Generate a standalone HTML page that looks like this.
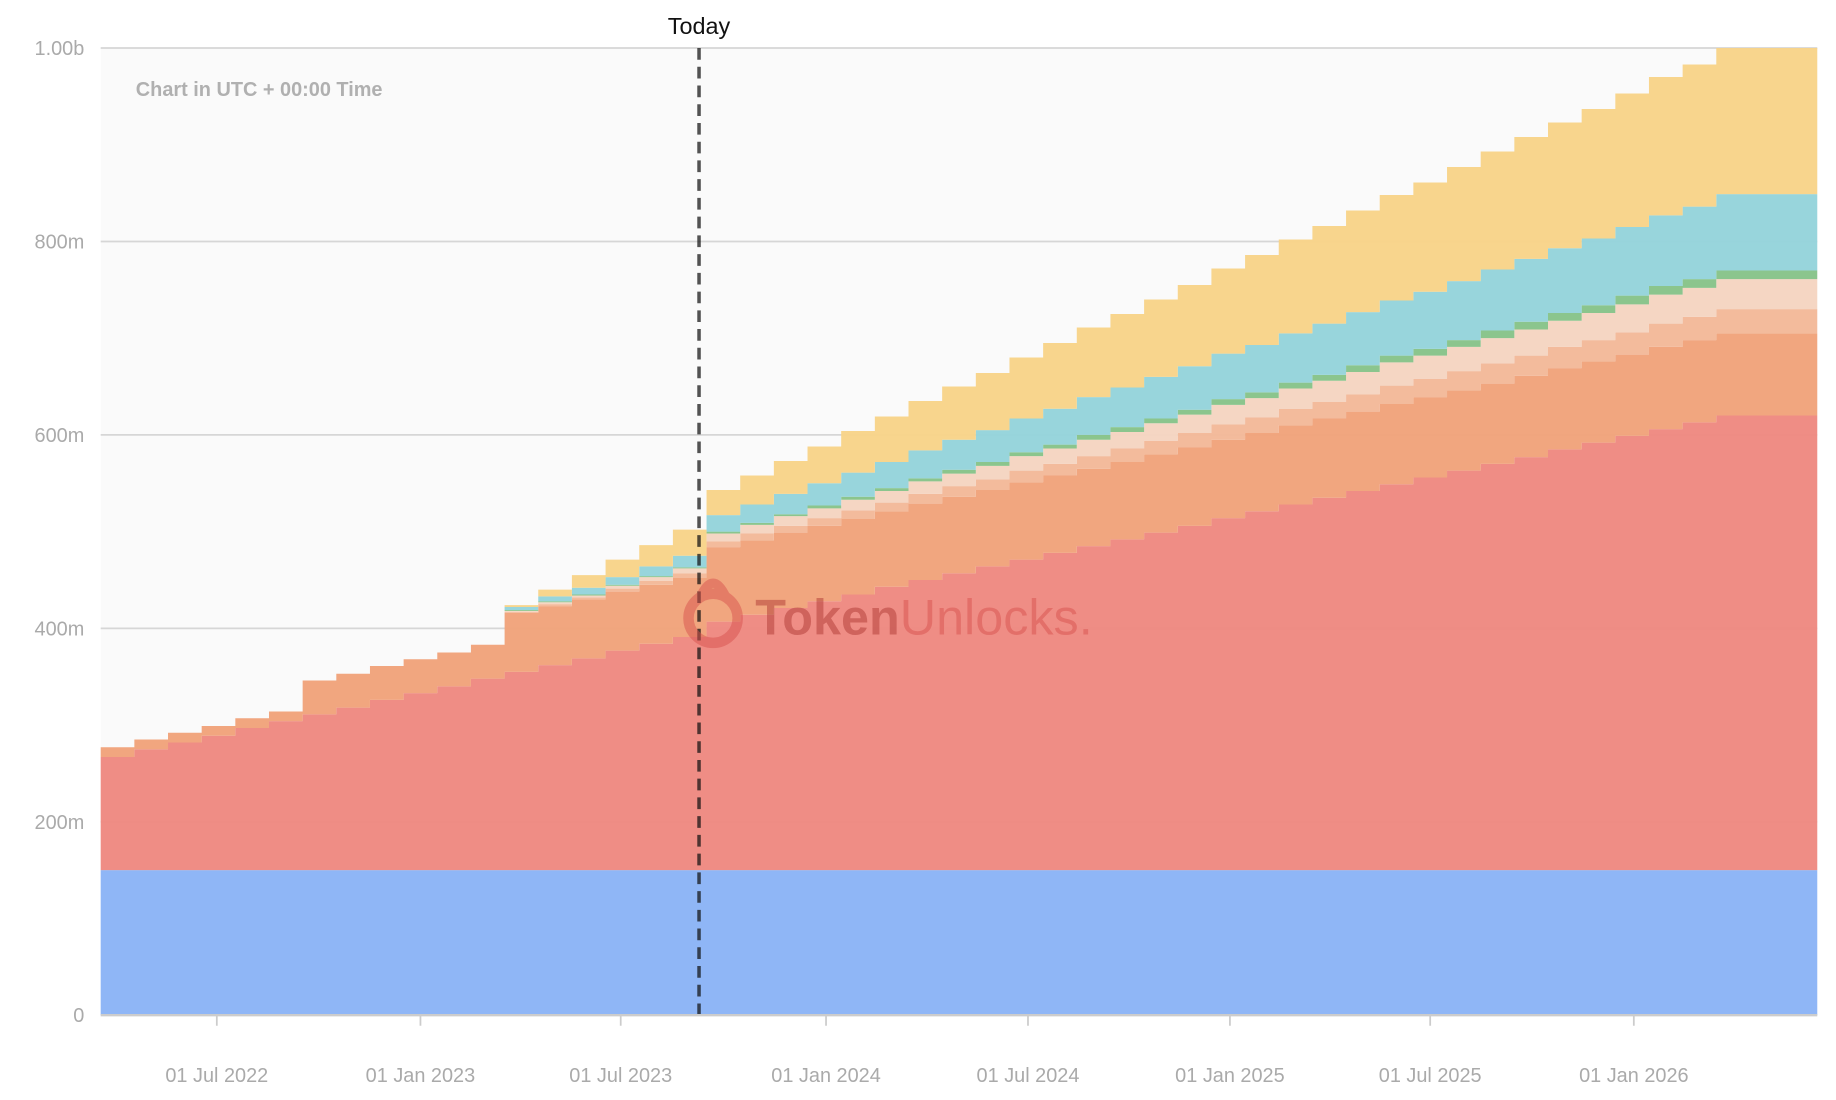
<!DOCTYPE html>
<html><head><meta charset="utf-8">
<style>
html,body{margin:0;padding:0;background:#fff;}
svg{display:block;font-family:"Liberation Sans",sans-serif;}
</style></head>
<body>
<svg id="chart" width="1836" height="1100" viewBox="0 0 1568 939.4" xmlns="http://www.w3.org/2000/svg">
<rect x="86" y="41" width="1466" height="826" fill="#fafafa"/>
<g id="grid"></g>
<g id="areas"></g>
<line x1="597" y1="41" x2="597" y2="867" stroke="#111" stroke-opacity="0.72" stroke-width="3" stroke-dasharray="10,6"/>
<text x="116" y="82" font-size="17" font-weight="bold" fill="#b0b0b0">Chart in UTC + 00:00 Time</text>
<text x="597" y="29" font-size="20" fill="#111" text-anchor="middle">Today</text>
<g opacity="0.5">
<circle cx="609" cy="528" r="21" fill="none" stroke="#d9534f" stroke-width="9"/>
<path d="M598 510 Q609 486 620 510" fill="none" stroke="#d9534f" stroke-width="8"/>
<text x="645" y="542" font-size="43" font-weight="bold" fill="#b03a35">Token<tspan font-weight="normal" fill="#d9534f">Unlocks.</tspan></text>
</g>
<line x1="86" y1="867" x2="1552" y2="867" stroke="#ccc" stroke-width="2"/>
<g id="yaxis"></g>
<g id="xaxis"></g>
</svg>
<script>
const months = 51;
const blueVals = Array(51).fill(150);
const redTops = [267,275,282,289,297,304,311,318,326,333,340,348,355,362,369,377,384,391,
407,414,421,428,435,443,450,457,464,471,478,485,492,499,506,514,521,528,535,542,549,556,563,570,577,585,592,599,606,613,620,620,620];
const orangeVals = [10,10,10,10,10,10,35,35,35,35,35,35,61,61,61,61,61,61,
77,77,78,78,78,78,79,79,79,80,80,80,80,81,81,81,81,82,82,82,83,83,83,83,84,84,84,84,85,85,85,85,85];
const peach1Vals = [0,0,0,0,0,0,0,0,0,0,0,0,1,2,2,3,4,5,
6,7,7,8,9,9,10,11,11,12,12,13,14,14,15,16,16,17,17,18,19,19,20,21,21,22,22,23,24,24,25,25,25];
const peach2Vals = [0,0,0,0,0,0,0,0,0,0,0,0,1,2,2,3,4,5,
8,9,10,10,11,12,13,13,14,15,16,17,17,18,19,20,20,21,22,23,24,24,25,26,27,27,28,29,30,30,31,31,31];
const greenVals = [0,0,0,0,0,0,0,0,0,0,0,0,1,1,1,1,1,1,
2,2,2,3,3,3,3,4,4,4,4,5,5,5,5,6,6,6,6,7,7,7,7,8,8,8,8,9,9,9,9,9,9];
const tealVals = [0,0,0,0,0,0,0,0,0,0,0,0,3,5,7,8,10,12,
17,19,21,23,25,27,29,31,33,35,37,39,41,43,45,47,49,51,53,55,57,59,61,63,65,67,69,71,73,75,79,79,79];
const yellowVals = [0,0,0,0,0,0,0,0,0,0,0,0,2,7,13,18,22,27,
26,30,34,38,43,47,51,55,59,63,68,72,76,80,84,88,93,97,101,105,109,113,118,122,126,130,134,138,143,147,151,151,151];
const yTicks = [0,200,400,600,800,1000];
const yTickLabels = ["0","200m","400m","600m","800m","1.00b"];
const xTickMonths = [3.45,9.5,15.45,21.55,27.55,33.55,39.5,45.55];
const xTickLabels = ["01 Jul 2022","01 Jan 2023","01 Jul 2023","01 Jan 2024","01 Jul 2024","01 Jan 2025","01 Jul 2025","01 Jan 2026"];

const X0=86,X1=1552,Y0=867,Y1=41;
const xs = m => X0 + m*(X1-X0)/months;
const ys = v => Y0 - v*(Y0-Y1)/1000;
const NS="http://www.w3.org/2000/svg";

const redVals = redTops.map(v=>v-150);
const layers = [
 ["blue-area",blueVals,"#8ab3f6"],["red-area",redVals,"#ee8880"],["orange-area",orangeVals,"#f0a27a"],
 ["peach-area",peach1Vals,"#f2b898"],["light-peach-area",peach2Vals,"#f5d4c1"],["green-area",greenVals,"#86c388"],
 ["teal-area",tealVals,"#94d3db"],["yellow-area",yellowVals,"#f8d388"]];
const base = Array(months).fill(0);
const areas=document.getElementById('areas');
layers.forEach(([name,vals,color])=>{
  const top = base.map((b,i)=>b+vals[i]);
  let d="M"+xs(0)+","+ys(top[0]);
  for(let i=0;i<months;i++){ d+=" L"+xs(i)+","+ys(top[i])+" L"+xs(i+1)+","+ys(top[i]); }
  for(let i=months-1;i>=0;i--){ d+=" L"+xs(i+1)+","+ys(base[i])+" L"+xs(i)+","+ys(base[i]); }
  d+="Z";
  const p=document.createElementNS(NS,'path');
  
  
  p.setAttribute('d',d);p.setAttribute('fill',color);p.setAttribute('fill-opacity','0.96');
  areas.appendChild(p);
  for(let i=0;i<months;i++) base[i]=top[i];
});
const grid=document.getElementById('grid'), yax=document.getElementById('yaxis');
yTicks.forEach((v,i)=>{
  if(v>0){const l=document.createElementNS(NS,'line');
  
  
  l.setAttribute('x1',X0);l.setAttribute('x2',X1);l.setAttribute('y1',ys(v));l.setAttribute('y2',ys(v));
  l.setAttribute('stroke','#d6d6d6');l.setAttribute('stroke-width','1.5');grid.appendChild(l);}
  const t=document.createElementNS(NS,'text');
  
  
  t.setAttribute('x',72);t.setAttribute('y',ys(v)+6);t.setAttribute('text-anchor','end');
  t.setAttribute('font-size','17');t.setAttribute('fill','#aaa');t.textContent=yTickLabels[i];yax.appendChild(t);
});
const xax=document.getElementById('xaxis');
xTickMonths.forEach((m,i)=>{
  const l=document.createElementNS(NS,'line');
  
  
  l.setAttribute('x1',xs(m));l.setAttribute('x2',xs(m));l.setAttribute('y1',Y0);l.setAttribute('y2',Y0+9);
  l.setAttribute('stroke','#ccc');l.setAttribute('stroke-width','1.5');xax.appendChild(l);
  const t=document.createElementNS(NS,'text');
  
  
  t.setAttribute('x',xs(m));t.setAttribute('y',924);t.setAttribute('text-anchor','middle');
  t.setAttribute('font-size','17');t.setAttribute('fill','#aaa');t.textContent=xTickLabels[i];xax.appendChild(t);
});
</script>
</body></html>
